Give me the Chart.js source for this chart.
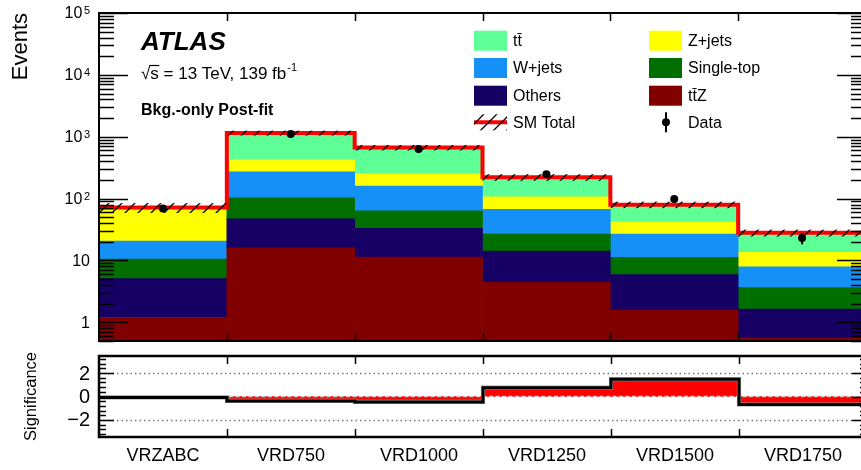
<!DOCTYPE html>
<html>
<head>
<meta charset="utf-8">
<script src="https://cdn.jsdelivr.net/npm/chart.js@4.4.1/dist/chart.umd.min.js"></script>
<style>
  html, body { margin: 0; padding: 0; background: #fff; overflow: hidden; width: 861px; height: 470px; }
  canvas { position: absolute; left: 0; }
  #main { top: 0; }
  #sig { top: 345px; }
</style>
</head>
<body>
<canvas id="main" width="870" height="345"></canvas>
<canvas id="sig" width="870" height="125"></canvas>
<script>
const categories = ['VRZABC', 'VRD750', 'VRD1000', 'VRD1250', 'VRD1500', 'VRD1750'];

// background yields per region, bottom of stack first
const ttZ       = [1.2, 16, 11.4, 4.5, 1.6, 0.56];
const others    = [3.9, 31, 21.6, 9.7, 4.3, 1.08];
const singleTop = [5.4, 56, 30.7, 12.5, 5.4, 2.0];
const wjets     = [10.1, 167, 96, 40.3, 15.4, 4.25];
const zjets     = [47, 152, 93, 40, 15.1, 5.7];
const ttbar     = [4, 728, 415, 114, 38, 14.4];
const smErr     = [13, 105, 67, 27, 9.6, 3.6];

const dataVals = [69, 1110, 632, 248, 99, 23];
const dataErr  = [8.3, 33, 25, 16, 10, 4.8];

const significance = [-0.08, -0.38, -0.46, 0.75, 1.48, -0.68];

const yTickVals   = [1, 10, 100, 1000, 10000, 100000];
const yTickLabels = ['1', '10', '10^2', '10^3', '10^4', '10^5'];
const sigTickVals   = [2, 0, -2];
const sigTickLabels = ['2', '0', '\u22122'];

const FONT = '"Liberation Sans", Arial, Helvetica, sans-serif';

const colors = {
  ttZ: '#800000', others: '#170064', single: '#006f00',
  wjets: '#1590f6', zjets: '#ffff00', ttbar: '#5eff97'
};

const stacks = [
  { label: 't\u0074\u0304Z', data: ttZ, color: colors.ttZ },
  { label: 'Others', data: others, color: colors.others },
  { label: 'Single-top', data: singleTop, color: colors.single },
  { label: 'W+jets', data: wjets, color: colors.wjets },
  { label: 'Z+jets', data: zjets, color: colors.zjets },
  { label: 't\u0074\u0304', data: ttbar, color: colors.ttbar }
];

const smTotal = categories.map((c, i) => stacks.reduce((s, st) => s + st.data[i], 0));

// legend: two columns, filled row by row
const legendItems = [
  { label: 't\u0074\u0304', color: colors.ttbar }, { label: 'Z+jets', color: colors.zjets },
  { label: 'W+jets', color: colors.wjets }, { label: 'Single-top', color: colors.single },
  { label: 'Others', color: colors.others }, { label: 't\u0074\u0304Z', color: colors.ttZ },
  { label: 'SM Total', kind: 'band' }, { label: 'Data', kind: 'data' }
];

function hatchPattern(ctx) {
  const s = 13;
  const c = document.createElement('canvas');
  c.width = s; c.height = s;
  const p = c.getContext('2d');
  p.strokeStyle = '#000';
  p.lineWidth = 1.3;
  p.beginPath();
  p.moveTo(0, s); p.lineTo(s, 0);
  p.moveTo(-2, 2); p.lineTo(2, -2);
  p.moveTo(s - 2, s + 2); p.lineTo(s + 2, s - 2);
  p.stroke();
  return ctx.createPattern(c, 'repeat');
}

function halfBin(xs) {
  return Math.abs(xs.getPixelForValue(1) - xs.getPixelForValue(0)) / 2;
}

function line(ctx, x0, y0, x1, y1) {
  ctx.beginPath(); ctx.moveTo(x0, y0); ctx.lineTo(x1, y1); ctx.stroke();
}

const mainDecor = {
  id: 'mainDecor',
  beforeDatasetDraw(chart, args) {
    if (args.meta.type !== 'line') return;
    const ctx = chart.ctx, xs = chart.scales.x, ys = chart.scales.y, a = chart.chartArea;
    const h = halfBin(xs);
    ctx.save();
    ctx.beginPath();
    ctx.rect(a.left, a.top, a.right - a.left, a.bottom - a.top);
    ctx.clip();

    // SM total step line
    ctx.beginPath();
    smTotal.forEach((t, i) => {
      const c = xs.getPixelForValue(i), y = ys.getPixelForValue(t);
      if (i === 0) ctx.moveTo(c - h, y); else ctx.lineTo(c - h, y);
      ctx.lineTo(c + h, y);
    });
    ctx.strokeStyle = '#ff0000';
    ctx.lineWidth = 4;
    ctx.stroke();

    // hatched uncertainty band
    ctx.fillStyle = hatchPattern(ctx);
    smTotal.forEach((t, i) => {
      const c = xs.getPixelForValue(i);
      const yHi = ys.getPixelForValue(t + smErr[i]), yLo = ys.getPixelForValue(t - smErr[i]);
      ctx.fillRect(c - h, yHi, 2 * h, yLo - yHi);
    });

    // data error bars
    ctx.strokeStyle = '#000';
    ctx.lineWidth = 2;
    dataVals.forEach((d, i) => {
      const c = xs.getPixelForValue(i);
      line(ctx, c, ys.getPixelForValue(d - dataErr[i]), c, ys.getPixelForValue(d + dataErr[i]));
    });
    ctx.restore();
  },
  afterDraw(chart) {
    const ctx = chart.ctx, xs = chart.scales.x, ys = chart.scales.y, a = chart.chartArea;
    const h = halfBin(xs);
    ctx.save();
    ctx.strokeStyle = '#000';

    // ticks on log axis, both sides
    ctx.lineWidth = 1.5;
    for (let e = -1; e <= 5; e++) {
      for (let m = 1; m <= 9; m++) {
        const v = m * Math.pow(10, e);
        if (v < ys.min || v > ys.max) continue;
        const y = Math.round(ys.getPixelForValue(v)) + 0.5;
        const len = m === 1 ? 29 : 15;
        line(ctx, a.left, y, a.left + len, y);
        line(ctx, a.right, y, a.right - len, y);
      }
    }
    // bin-edge ticks top and bottom
    for (let i = 1; i < categories.length; i++) {
      const x = Math.round(xs.getPixelForValue(i) - h) + 0.5;
      line(ctx, x, a.bottom, x, a.bottom - 8);
      line(ctx, x, a.top, x, a.top + 8);
    }
    ctx.lineWidth = 2;
    ctx.strokeRect(a.left, a.top, a.right - a.left, a.bottom - a.top);

    // y tick labels
    ctx.fillStyle = '#000';
    yTickVals.forEach((v, i) => {
      const y = ys.getPixelForValue(v);
      const [base, exp] = yTickLabels[i].split('^');
      let xr = 90;
      if (exp) {
        ctx.font = '11px ' + FONT;
        ctx.textAlign = 'right';
        ctx.textBaseline = 'alphabetic';
        ctx.fillText(exp, xr, y + 1);
        xr -= ctx.measureText(exp).width + 1.5;
      }
      ctx.font = '16px ' + FONT;
      ctx.textAlign = 'right';
      ctx.textBaseline = 'middle';
      ctx.fillText(base, xr, y + 1);
    });

    // y axis title
    ctx.save();
    ctx.translate(27, 13);
    ctx.rotate(-Math.PI / 2);
    ctx.font = '22px ' + FONT;
    ctx.textAlign = 'right';
    ctx.textBaseline = 'alphabetic';
    ctx.fillText('Events', 0, 0);
    ctx.restore();

    // ATLAS label block
    ctx.textAlign = 'left';
    ctx.textBaseline = 'alphabetic';
    ctx.font = 'italic bold 26px ' + FONT;
    ctx.fillText('ATLAS', 141, 50);
    ctx.font = '17px ' + FONT;
    const lumi = '\u221As = 13 TeV, 139 fb';
    ctx.fillText(lumi, 141, 78.5);
    const wRoot = ctx.measureText('\u221A').width;
    const wS = ctx.measureText('s').width;
    ctx.lineWidth = 1.2;
    line(ctx, 141 + wRoot - 1, 65.5, 141 + wRoot + wS + 0.5, 65.5);
    const wl = ctx.measureText(lumi).width;
    ctx.font = '11px ' + FONT;
    ctx.fillText('-1', 141 + wl + 1, 71);
    ctx.font = 'bold 16px ' + FONT;
    ctx.fillText('Bkg.-only Post-fit', 141, 115);

    // legend
    const pat = hatchPattern(ctx);
    ctx.font = '16px ' + FONT;
    ctx.textBaseline = 'middle';
    legendItems.forEach((it, i) => {
      const col = i % 2, row = Math.floor(i / 2);
      const x = col === 0 ? 474 : 649;
      const y = [40.7, 68, 95.7, 122.3][row];
      if (it.kind === 'band') {
        ctx.strokeStyle = '#ff0000';
        ctx.lineWidth = 4;
        line(ctx, x, y, x + 33, y);
        ctx.fillStyle = pat;
        ctx.fillRect(x, y - 8, 33, 16);
      } else if (it.kind === 'data') {
        ctx.strokeStyle = '#000';
        ctx.lineWidth = 2;
        line(ctx, 666, y - 10, 666, y + 10);
        ctx.fillStyle = '#000';
        ctx.beginPath(); ctx.arc(666, y, 4, 0, Math.PI * 2); ctx.fill();
      } else {
        ctx.fillStyle = it.color;
        ctx.fillRect(x, y - 10, 33, 20);
      }
      ctx.fillStyle = '#000';
      ctx.fillText(it.label, x + 39, y + 1);
    });
    ctx.restore();
  }
};

new Chart(document.getElementById('main'), {
  type: 'bar',
  data: {
    labels: categories,
    datasets: stacks.map(st => ({
      label: st.label, data: st.data, backgroundColor: st.color,
      borderWidth: 0, stack: 'bkg', order: 1,
      barPercentage: 1, categoryPercentage: 1
    })).concat([{
      type: 'line', label: 'Data', data: dataVals, stack: 'data', order: 0,
      showLine: false, pointRadius: 4, pointBackgroundColor: '#000', pointBorderWidth: 0
    }])
  },
  options: {
    responsive: false, animation: false, devicePixelRatio: 1, events: [],
    layout: { padding: { left: 99, right: 3, top: 13, bottom: 4 } },
    scales: {
      x: { display: false, stacked: true },
      y: { type: 'logarithmic', display: false, stacked: true, min: 0.5, max: 1e5 }
    },
    plugins: { legend: { display: false }, tooltip: { enabled: false } }
  },
  plugins: [mainDecor]
});

const sigDecor = {
  id: 'sigDecor',
  beforeDatasetsDraw(chart) {
    const ctx = chart.ctx, ys = chart.scales.y, a = chart.chartArea;
    ctx.save();
    ctx.strokeStyle = '#777';
    ctx.lineWidth = 1.3;
    ctx.setLineDash([1.5, 3]);
    [2, -2].forEach(v => {
      const y = Math.round(ys.getPixelForValue(v)) + 0.5;
      line(ctx, a.left, y, a.right, y);
    });
    ctx.restore();
  },
  afterDatasetsDraw(chart) {
    const ctx = chart.ctx, xs = chart.scales.x, ys = chart.scales.y, a = chart.chartArea;
    const h = halfBin(xs);
    ctx.save();
    const y0 = ys.getPixelForValue(0);
    ctx.strokeStyle = '#d0d0d0';
    ctx.lineWidth = 1.5;
    ctx.setLineDash([4, 2.5]);
    line(ctx, a.left, y0, a.right, y0);
    ctx.setLineDash([]);
    ctx.beginPath();
    significance.forEach((s, i) => {
      const c = xs.getPixelForValue(i), y = ys.getPixelForValue(s);
      if (i === 0) ctx.moveTo(c - h, y); else ctx.lineTo(c - h, y);
      ctx.lineTo(c + h, y);
    });
    ctx.strokeStyle = '#9a9a9a';
    ctx.lineWidth = 4.2;
    ctx.stroke();
    ctx.strokeStyle = '#000';
    ctx.lineWidth = 3;
    ctx.stroke();
    ctx.restore();
  },
  afterDraw(chart) {
    const ctx = chart.ctx, xs = chart.scales.x, ys = chart.scales.y, a = chart.chartArea;
    const h = halfBin(xs);
    ctx.save();
    ctx.strokeStyle = '#000';
    ctx.lineWidth = 1.5;
    for (let k = -8; k <= 8; k++) {
      const v = k * 0.4;
      if (v < ys.min || v > ys.max) continue;
      const major = Math.abs(v - Math.round(v / 2) * 2) < 1e-6;
      const len = major ? 15 : 7;
      const y = Math.round(ys.getPixelForValue(v)) + 0.5;
      line(ctx, a.left, y, a.left + len, y);
      line(ctx, a.right, y, a.right - len, y);
    }
    for (let i = 1; i < categories.length; i++) {
      const x = Math.round(xs.getPixelForValue(i) - h) + 0.5;
      line(ctx, x, a.bottom, x, a.bottom - 8);
      line(ctx, x, a.top, x, a.top + 8);
    }
    ctx.lineWidth = 2.5;
    ctx.strokeRect(a.left, a.top, a.right - a.left, a.bottom - a.top);

    ctx.fillStyle = '#000';
    ctx.font = '20px ' + FONT;
    ctx.textAlign = 'right';
    ctx.textBaseline = 'middle';
    sigTickVals.forEach((v, i) => ctx.fillText(sigTickLabels[i], 90, ys.getPixelForValue(v) + 1));

    ctx.font = '18px ' + FONT;
    ctx.textAlign = 'center';
    categories.forEach((c, i) => ctx.fillText(c, xs.getPixelForValue(i), 111.5));

    ctx.save();
    ctx.translate(36, 51.5);
    ctx.rotate(-Math.PI / 2);
    ctx.font = '16.5px ' + FONT;
    ctx.textAlign = 'center';
    ctx.textBaseline = 'alphabetic';
    ctx.fillText('Significance', 0, 0);
    ctx.restore();
    ctx.restore();
  }
};

new Chart(document.getElementById('sig'), {
  type: 'bar',
  data: {
    labels: categories,
    datasets: [{
      label: 'Significance', data: significance, backgroundColor: '#ff0000',
      borderWidth: 0, barPercentage: 1, categoryPercentage: 1
    }]
  },
  options: {
    responsive: false, animation: false, devicePixelRatio: 1, events: [],
    layout: { padding: { left: 99, right: 3, top: 11, bottom: 33 } },
    scales: {
      x: { display: false },
      y: { display: false, min: -3.45, max: 3.45 }
    },
    plugins: { legend: { display: false }, tooltip: { enabled: false } }
  },
  plugins: [sigDecor]
});
</script>
</body>
</html>
